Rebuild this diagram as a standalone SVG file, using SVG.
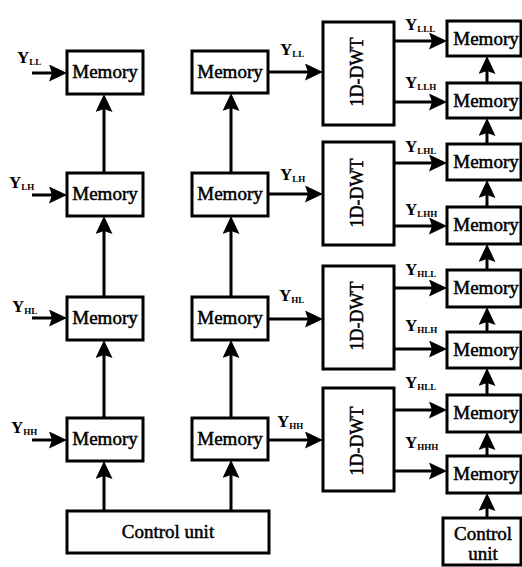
<svg xmlns="http://www.w3.org/2000/svg" width="522" height="567" viewBox="0 0 522 567">
<style>
  .box { fill: #fff; stroke: #000; stroke-width: 3; }
  text { font-family: "Liberation Serif", "Times New Roman", "DejaVu Serif", serif; fill: #000; }
  .lbl { font-size: 19px; text-anchor: middle; stroke: #000; stroke-width: 0.5; }
  .dwt { font-size: 18px; text-anchor: middle; stroke: #000; stroke-width: 0.5; }
  .y { font-size: 17px; font-weight: bold; }
  .sub { font-size: 9px; }
  .wire { stroke: #000; stroke-width: 3; fill: none; marker-end: url(#head); }
</style>
<defs>
  <marker id="head" viewBox="0 0 18 17" refX="10" refY="8.5" markerWidth="18" markerHeight="17" markerUnits="userSpaceOnUse" orient="auto">
    <path d="M0,0 L18,8.5 L0,17 L3,8.5 Z" fill="#000"/>
  </marker>
</defs>

<!-- connectors -->
<g id="connectors">
  <!-- inputs into first memory column -->
  <line class="wire" x1="32" y1="73" x2="59" y2="73"/>
  <line class="wire" x1="32" y1="195" x2="59" y2="195"/>
  <line class="wire" x1="32" y1="318" x2="59" y2="318"/>
  <line class="wire" x1="32" y1="440" x2="59" y2="440"/>
  <!-- first column upward chain -->
  <line class="wire" x1="104" y1="173" x2="104" y2="102"/>
  <line class="wire" x1="104" y1="297" x2="104" y2="224"/>
  <line class="wire" x1="104" y1="418" x2="104" y2="348"/>
  <line class="wire" x1="104" y1="511" x2="104" y2="469"/>
  <!-- second column upward chain -->
  <line class="wire" x1="231" y1="173" x2="231" y2="101"/>
  <line class="wire" x1="231" y1="297" x2="231" y2="224"/>
  <line class="wire" x1="231" y1="418" x2="231" y2="348"/>
  <line class="wire" x1="231" y1="511" x2="231" y2="468"/>
  <!-- second column into 1D-DWT -->
  <line class="wire" x1="268" y1="72" x2="315" y2="72"/>
  <line class="wire" x1="268" y1="194" x2="315" y2="194"/>
  <line class="wire" x1="268" y1="319" x2="315" y2="319"/>
  <line class="wire" x1="268" y1="440" x2="315" y2="440"/>
  <!-- 1D-DWT outputs -->
  <line class="wire" x1="394" y1="41" x2="439" y2="41"/>
  <line class="wire" x1="394" y1="102" x2="439" y2="102"/>
  <line class="wire" x1="394" y1="163" x2="439" y2="163"/>
  <line class="wire" x1="394" y1="226" x2="439" y2="226"/>
  <line class="wire" x1="394" y1="288" x2="439" y2="288"/>
  <line class="wire" x1="394" y1="349" x2="439" y2="349"/>
  <line class="wire" x1="394" y1="410" x2="439" y2="410"/>
  <line class="wire" x1="394" y1="471" x2="439" y2="471"/>
  <!-- output memory upward chain -->
  <line class="wire" x1="487" y1="83" x2="487" y2="64"/>
  <line class="wire" x1="487" y1="144" x2="487" y2="126"/>
  <line class="wire" x1="487" y1="207" x2="487" y2="188"/>
  <line class="wire" x1="487" y1="270" x2="487" y2="252"/>
  <line class="wire" x1="487" y1="332" x2="487" y2="315"/>
  <line class="wire" x1="487" y1="395" x2="487" y2="376"/>
  <line class="wire" x1="487" y1="456" x2="487" y2="440"/>
  <line class="wire" x1="487" y1="518" x2="487" y2="501"/>
</g>

<!-- signal labels -->
<g id="labels">
  <text class="y" x="17" y="63">Y<tspan class="sub" dy="2">LL</tspan></text>
  <text class="y" x="9" y="188">Y<tspan class="sub" dy="2">LH</tspan></text>
  <text class="y" x="12" y="312">Y<tspan class="sub" dy="2">HL</tspan></text>
  <text class="y" x="11" y="433">Y<tspan class="sub" dy="2">HH</tspan></text>

  <text class="y" x="280" y="55">Y<tspan class="sub" dy="2">LL</tspan></text>
  <text class="y" x="280" y="180">Y<tspan class="sub" dy="2">LH</tspan></text>
  <text class="y" x="279" y="301">Y<tspan class="sub" dy="2">HL</tspan></text>
  <text class="y" x="277" y="427">Y<tspan class="sub" dy="2">HH</tspan></text>

  <text class="y" x="405" y="30">Y<tspan class="sub" dy="2">LLL</tspan></text>
  <text class="y" x="405" y="88">Y<tspan class="sub" dy="2">LLH</tspan></text>
  <text class="y" x="405" y="152">Y<tspan class="sub" dy="2">LHL</tspan></text>
  <text class="y" x="405" y="215">Y<tspan class="sub" dy="2">LHH</tspan></text>
  <text class="y" x="405" y="275">Y<tspan class="sub" dy="2">HLL</tspan></text>
  <text class="y" x="405" y="331">Y<tspan class="sub" dy="2">HLH</tspan></text>
  <text class="y" x="405" y="388">Y<tspan class="sub" dy="2">HLL</tspan></text>
  <text class="y" x="405" y="448">Y<tspan class="sub" dy="2">HHH</tspan></text>
</g>

<!-- first memory column -->
<g id="mem-a1"><rect class="box" x="67" y="51" width="76" height="43"/><text class="lbl" x="105" y="78">Memory</text></g>
<g id="mem-a2"><rect class="box" x="67" y="173" width="76" height="43"/><text class="lbl" x="105" y="200">Memory</text></g>
<g id="mem-a3"><rect class="box" x="67" y="297" width="76" height="43"/><text class="lbl" x="105" y="324">Memory</text></g>
<g id="mem-a4"><rect class="box" x="67" y="418" width="76" height="43"/><text class="lbl" x="105" y="445">Memory</text></g>

<!-- second memory column -->
<g id="mem-b1"><rect class="box" x="192" y="51" width="76" height="42"/><text class="lbl" x="230" y="78">Memory</text></g>
<g id="mem-b2"><rect class="box" x="192" y="173" width="76" height="43"/><text class="lbl" x="230" y="200">Memory</text></g>
<g id="mem-b3"><rect class="box" x="192" y="297" width="76" height="43"/><text class="lbl" x="230" y="324">Memory</text></g>
<g id="mem-b4"><rect class="box" x="192" y="418" width="76" height="42"/><text class="lbl" x="230" y="445">Memory</text></g>

<!-- control unit -->
<g id="ctrl-main"><rect class="box" x="67" y="511" width="202" height="42"/><text class="lbl" x="168" y="538">Control unit</text></g>

<!-- 1D-DWT blocks -->
<g id="dwt-1"><rect class="box" x="323" y="22" width="71" height="103"/><text class="dwt" transform="translate(363,72) rotate(-90)">1D-DWT</text></g>
<g id="dwt-2"><rect class="box" x="323" y="142" width="71" height="103"/><text class="dwt" transform="translate(363,193) rotate(-90)">1D-DWT</text></g>
<g id="dwt-3"><rect class="box" x="323" y="266" width="71" height="103"/><text class="dwt" transform="translate(363,316) rotate(-90)">1D-DWT</text></g>
<g id="dwt-4"><rect class="box" x="323" y="388" width="71" height="103"/><text class="dwt" transform="translate(363,441) rotate(-90)">1D-DWT</text></g>

<!-- output memory column -->
<g id="mem-c1"><rect class="box" x="447" y="21" width="74" height="35"/><text class="lbl" x="486" y="45">Memory</text></g>
<g id="mem-c2"><rect class="box" x="447" y="83" width="74" height="35"/><text class="lbl" x="486" y="107">Memory</text></g>
<g id="mem-c3"><rect class="box" x="447" y="144" width="74" height="36"/><text class="lbl" x="486" y="168">Memory</text></g>
<g id="mem-c4"><rect class="box" x="447" y="207" width="74" height="37"/><text class="lbl" x="486" y="231">Memory</text></g>
<g id="mem-c5"><rect class="box" x="447" y="270" width="74" height="37"/><text class="lbl" x="486" y="294">Memory</text></g>
<g id="mem-c6"><rect class="box" x="447" y="332" width="74" height="36"/><text class="lbl" x="486" y="356">Memory</text></g>
<g id="mem-c7"><rect class="box" x="447" y="395" width="74" height="37"/><text class="lbl" x="486" y="419">Memory</text></g>
<g id="mem-c8"><rect class="box" x="447" y="456" width="74" height="37"/><text class="lbl" x="486" y="480">Memory</text></g>

<!-- output control unit -->
<g id="ctrl-out"><rect class="box" x="443" y="518" width="78" height="47"/><text class="lbl" x="483" y="540">Control</text><text class="lbl" x="483" y="560">unit</text></g>
</svg>
